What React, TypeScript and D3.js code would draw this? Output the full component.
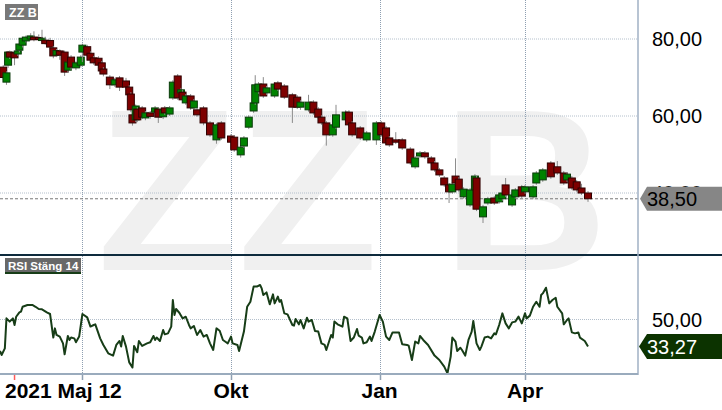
import React from 'react';
import * as d3 from 'd3';

// trading data. days = calendar days after 2021-05-12
const startDate = new Date(2021, 4, 12);

const candleDays = [1, 3, 4, 5, 8, 10, 11, 13, 15, 18, 20, 23, 25, 27, 30, 32, 34, 36, 39, 41, 43, 46, 49, 50, 53, 55, 57, 60, 62, 63,
  67, 70, 73, 77, 79, 80, 81, 83, 84, 87, 89, 92, 95, 97, 100, 101, 104, 106, 109, 111, 112, 114, 117, 119, 121, 125, 129, 133, 136, 142,
  144, 148, 150, 153, 156, 157, 159, 162, 164, 169, 171, 175, 180, 183, 185, 190, 193, 196, 198, 201, 205, 207, 213, 215, 217, 222, 226, 232, 235, 238,
  240, 244, 248, 253, 256, 259, 262, 266, 268, 271, 274, 277, 279, 281, 283, 286, 290, 293, 294, 298, 301, 305, 308, 310, 312, 316, 318, 322, 324, 329,
  331, 335, 340, 344, 348, 350, 353, 356, 359, 363];
const opens = [72.7, 68.8, 73.2, 76.6, 76.4, 76.1, 77.1, 78.4, 79.5, 80.0, 80.5, 80.4, 79.6, 79.7, 79.6, 77.7, 75.8, 76.9, 76.6, 71.9, 75.3, 72.5, 73.2, 76.6, 78.0, 76.3, 75.1, 75.0, 73.8, 72.2,
  70.1, 68.1, 69.9, 69.1, 67.5, 65.7, 60.3, 59.0, 61.8, 62.1, 59.5, 60.8, 61.0, 61.8, 59.8, 62.1, 60.5, 64.7, 70.4, 66.0, 66.2, 63.4, 65.2, 62.1, 61.6, 62.1, 58.2, 53.8, 58.2, 54.8,
  54.5, 49.9, 52.2, 57.1, 61.3, 63.4, 66.3, 68.3, 66.0, 65.2, 68.6, 67.8, 65.5, 64.9, 62.3, 61.6, 63.6, 61.8, 59.7, 58.2, 55.1, 57.1, 59.0, 61.0, 58.2, 56.9, 53.8, 53.8, 58.2, 56.9,
  54.3, 53.8, 53.8, 51.4, 46.8, 49.6, 50.4, 49.1, 47.8, 46.0, 43.9, 42.1, 40.3, 44.4, 43.6, 39.0, 36.9, 40.8, 43.9, 33.8, 37.4, 38.7, 37.7, 38.5, 42.1, 36.9, 39.0, 41.6, 40.3, 39.0,
  42.6, 43.4, 47.8, 46.8, 45.2, 43.4, 43.9, 42.9, 41.3, 40.0];
const highs = [73.2, 71.6, 76.9, 77.0, 76.8, 77.2, 79.0, 80.5, 80.9, 81.5, 82.0, 81.2, 82.4, 80.6, 80.3, 78.2, 77.4, 77.3, 77.0, 74.4, 75.8, 74.2, 75.8, 78.8, 78.5, 76.8, 75.6, 75.5, 74.3, 72.7,
  70.6, 69.9, 70.4, 69.9, 68.0, 66.2, 60.8, 63.0, 62.3, 62.6, 61.3, 61.3, 62.6, 62.3, 62.1, 62.6, 62.6, 69.3, 70.9, 67.3, 66.7, 65.7, 65.7, 64.4, 62.1, 62.6, 58.7, 58.2, 58.7, 55.3,
  55.0, 52.4, 54.8, 60.2, 63.9, 70.6, 68.8, 70.1, 67.8, 68.8, 69.1, 68.3, 66.0, 65.4, 64.1, 65.5, 64.1, 62.3, 60.2, 58.7, 58.2, 62.9, 61.5, 61.5, 58.7, 57.4, 56.1, 58.7, 58.7, 57.4,
  54.8, 55.8, 54.3, 51.9, 49.6, 50.9, 50.9, 49.6, 48.3, 46.5, 44.4, 42.6, 42.8, 49.0, 44.1, 41.5, 41.3, 44.9, 44.4, 36.9, 39.0, 39.2, 40.0, 40.5, 43.9, 40.0, 41.3, 42.1, 42.1, 42.1,
  45.7, 46.5, 48.3, 48.3, 45.7, 45.4, 44.4, 43.4, 42.4, 40.5];
const lows = [69.5, 68.1, 72.5, 74.8, 73.2, 75.6, 76.5, 77.8, 79.1, 79.6, 79.4, 79.5, 79.2, 78.5, 77.5, 75.0, 75.3, 74.6, 70.4, 71.2, 72.0, 71.9, 72.6, 74.0, 75.3, 74.0, 73.3, 72.5, 71.0, 70.3,
  67.0, 67.6, 66.5, 67.0, 65.0, 61.0, 57.5, 58.4, 58.4, 59.2, 58.9, 59.3, 60.5, 58.2, 59.2, 60.3, 60.0, 64.2, 64.2, 65.5, 63.7, 62.9, 61.6, 61.6, 59.8, 57.6, 54.6, 52.8, 53.8, 51.5,
  50.7, 49.2, 51.7, 56.6, 60.8, 62.9, 65.8, 64.7, 65.5, 64.7, 66.5, 64.4, 58.2, 61.8, 61.6, 61.1, 60.3, 59.2, 57.7, 52.3, 54.6, 56.6, 58.5, 57.2, 54.6, 53.8, 53.3, 52.5, 54.6, 52.5,
  52.0, 52.7, 51.2, 47.3, 46.3, 49.1, 48.9, 47.3, 45.5, 44.2, 41.6, 37.4, 39.8, 42.1, 40.3, 38.5, 36.4, 40.3, 35.3, 32.2, 36.9, 36.9, 37.2, 38.0, 39.0, 36.4, 38.5, 38.7, 39.8, 38.5,
  42.1, 42.9, 43.7, 44.7, 42.1, 42.9, 40.8, 40.3, 39.5, 37.7];
const closes = [70.0, 71.2, 76.6, 75.3, 75.1, 76.9, 78.7, 80.2, 80.5, 80.8, 79.8, 79.9, 80.2, 78.8, 77.9, 75.6, 77.0, 75.8, 71.4, 74.0, 72.7, 73.8, 75.3, 78.4, 75.8, 74.5, 73.8, 73.2, 71.7, 70.9,
  68.1, 69.4, 67.5, 67.5, 65.5, 61.6, 58.2, 62.6, 59.0, 59.7, 60.8, 59.9, 62.1, 59.7, 61.6, 60.8, 62.1, 68.8, 64.7, 66.8, 64.2, 65.2, 62.1, 63.9, 60.3, 58.2, 55.1, 57.7, 54.3, 53.2,
  51.2, 51.9, 54.3, 59.7, 63.4, 68.1, 68.3, 65.2, 67.3, 68.3, 67.0, 64.9, 62.3, 62.3, 63.6, 63.6, 60.8, 59.7, 58.2, 55.1, 57.7, 60.3, 61.0, 57.7, 55.1, 54.3, 55.6, 58.2, 55.1, 53.0,
  52.5, 53.2, 51.7, 47.8, 49.1, 50.4, 49.4, 47.8, 46.0, 44.7, 42.1, 40.3, 42.3, 42.6, 40.8, 41.0, 40.8, 44.4, 35.8, 36.4, 38.5, 37.4, 39.5, 40.0, 39.5, 39.5, 40.8, 39.2, 41.6, 41.6,
  45.2, 46.0, 44.2, 45.2, 42.6, 44.9, 41.3, 40.8, 40.0, 38.5];

const rsiDays = [-1, 0, 2, 3, 5, 7, 8, 9, 11, 12, 13, 16, 19, 21, 23, 25, 28, 30, 32, 33, 34, 36, 38, 39, 41, 42, 43, 45, 46, 48,
  50, 53, 55, 57, 58, 61, 63, 66, 69, 71, 73, 74, 75, 77, 79, 81, 82, 84, 85, 87, 90, 92, 94, 95, 96, 98, 100, 101, 103, 105,
  106, 107, 108, 110, 112, 114, 116, 117, 119, 121, 123, 125, 127, 129, 131, 133, 135, 137, 139, 140, 142, 143, 146, 147, 150, 152, 154, 156, 158, 160,
  161, 162, 164, 166, 168, 169, 171, 172, 173, 175, 177, 180, 181, 182, 184, 185, 187, 189, 190, 192, 194, 196, 198, 200, 201, 204, 205, 206, 208, 211,
  212, 214, 216, 218, 220, 221, 223, 224, 226, 228, 229, 231, 234, 236, 238, 240, 242, 246, 248, 251, 252, 254, 256, 258, 259, 261, 264, 268, 271, 274,
  276, 278, 279, 281, 282, 284, 285, 287, 289, 291, 292, 294, 296, 297, 299, 301, 303, 305, 306, 308, 310, 312, 314, 316, 318, 320, 322, 324, 325, 327,
  329, 331, 333, 334, 335, 337, 339, 341, 343, 344, 347, 348, 350, 351, 353, 355, 357, 358, 361, 363];
const rsiValues = [30.5, 28.0, 32.1, 50.7, 48.7, 50.7, 46.6, 51.7, 54.4, 54.9, 57.9, 59.0, 59.0, 57.9, 56.5, 56.3, 54.4, 53.4, 38.8, 44.5, 40.4, 39.4, 35.2, 28.4, 39.8, 37.3, 38.8, 38.3, 35.9, 39.4,
  53.4, 51.3, 45.6, 46.6, 47.0, 38.3, 34.2, 29.0, 27.6, 34.2, 36.7, 33.2, 39.8, 33.2, 23.4, 20.2, 33.6, 29.7, 36.7, 33.6, 35.2, 35.9, 39.8, 37.3, 38.8, 36.7, 43.5, 40.8, 41.4, 45.6,
  62.1, 52.8, 56.5, 54.2, 50.7, 51.7, 46.6, 44.5, 46.0, 40.4, 43.5, 39.4, 40.4, 35.2, 31.1, 44.5, 43.0, 37.3, 35.9, 35.2, 39.4, 35.2, 34.2, 30.5, 42.5, 57.9, 61.0, 70.4, 70.4, 71.4,
  69.3, 65.2, 66.8, 59.4, 65.6, 60.0, 64.2, 61.0, 62.1, 53.8, 53.2, 46.6, 46.2, 50.3, 47.0, 49.7, 44.5, 51.1, 48.7, 49.7, 42.9, 42.5, 35.2, 34.2, 31.1, 40.4, 38.8, 48.7, 47.0, 45.6,
  51.7, 50.7, 36.7, 38.8, 44.1, 40.0, 38.8, 35.2, 35.9, 39.4, 36.7, 42.5, 52.8, 48.7, 39.4, 37.3, 42.0, 41.9, 34.6, 34.2, 33.8, 24.9, 36.3, 35.2, 39.8, 37.3, 34.2, 27.6, 24.9, 20.8,
  16.7, 27.0, 38.8, 36.3, 30.5, 32.5, 31.1, 27.6, 37.3, 42.5, 49.1, 35.2, 31.1, 33.2, 38.8, 39.4, 38.3, 41.4, 40.8, 46.6, 53.8, 47.6, 44.5, 48.2, 48.7, 51.8, 47.6, 53.8, 50.7, 52.4,
  57.9, 61.0, 57.9, 65.2, 66.2, 69.7, 60.0, 62.1, 63.5, 57.9, 53.8, 47.0, 49.7, 50.7, 42.0, 41.4, 42.0, 38.8, 36.7, 33.27];

const priceTicks = [80, 60, 40];
const rsiTicks = [50];
const monthTicks = [new Date(2021, 6, 1), new Date(2021, 9, 1), new Date(2022, 0, 1), new Date(2022, 3, 1)];
const monthLabels = [
  { date: new Date(2021, 9, 1), text: 'Okt' },
  { date: new Date(2022, 0, 1), text: 'Jan' },
  { date: new Date(2022, 3, 1), text: 'Apr' },
];
const eventDays = [8];
const lastPrice = 38.5;
const lastRsi = 33.27;

const W = 722;
const H = 410;
const plotRight = 638;
const priceBottom = 255;
const rsiBottom = 374;
const font = '"Liberation Sans", Arial, sans-serif';
const fmt = (v: number) => v.toFixed(2).replace('.', ',');
const toDate = (d: number) => d3.timeDay.offset(startDate, d);

const App: React.FC = () => {
  const x = d3.scaleTime()
    .domain([new Date(2021, 9, 1), new Date(2022, 3, 1)])
    .range([231, 525]);
  const y = d3.scaleLinear().domain([60, 80]).range([116, 39]);
  const yr = d3.scaleLinear().domain([16.2, 50]).range([rsiBottom, 319.5]);

  const rsiLine = d3.line<number>()
    .x((_, i) => x(toDate(rsiDays[i])))
    .y((v) => yr(v));

  const bw = 7;

  return (
    <div style={{ position: 'fixed', left: 0, top: 0 }}>
      <svg width={W} height={H} style={{ display: 'block', background: '#fff', fontFamily: font }}>
        <defs>
          <clipPath id="pclip"><rect x={0} y={0} width={plotRight} height={priceBottom - 1} /></clipPath>
          <clipPath id="rclip"><rect x={0} y={priceBottom + 1} width={plotRight} height={rsiBottom - priceBottom - 1} /></clipPath>
        </defs>

        {/* watermark */}
        <text x={97} y={270} fontSize={230} fontWeight="bold" fill="#f0f0f0">ZZ B</text>

        {/* horizontal grid */}
        {priceTicks.map((t) => (
          <line key={'pg' + t} x1={0} x2={plotRight} y1={y(t)} y2={y(t)} stroke="#b4c0cc" strokeDasharray="1,1" />
        ))}
        {rsiTicks.map((t) => (
          <line key={'rg' + t} x1={0} x2={plotRight} y1={yr(t)} y2={yr(t)} stroke="#b4c0cc" strokeDasharray="1,1" />
        ))}

        {/* vertical grid + ticks */}
        {monthTicks.map((d, i) => (
          <g key={'vg' + i}>
            <line x1={Math.round(x(d)) + 0.5} x2={Math.round(x(d)) + 0.5} y1={0} y2={rsiBottom} stroke="#8e9fb1" strokeDasharray="1,1" />
            <line x1={Math.round(x(d)) + 0.5} x2={Math.round(x(d)) + 0.5} y1={rsiBottom} y2={rsiBottom + 6} stroke="#8e9fb1" strokeWidth={1.5} />
          </g>
        ))}

        {/* last price line */}
        <line x1={0} x2={plotRight} y1={y(lastPrice)} y2={y(lastPrice)} stroke="#777" strokeDasharray="3,2" />

        {/* candles */}
        <g clipPath="url(#pclip)">
          {candleDays.map((d, i) => {
            const cx = x(toDate(d));
            const up = closes[i] >= opens[i];
            const top = y(Math.max(opens[i], closes[i]));
            const bot = y(Math.min(opens[i], closes[i]));
            return (
              <g key={'c' + i}>
                <line x1={cx} x2={cx} y1={y(highs[i])} y2={y(lows[i])} stroke="#8a8a8a" />
                <rect x={cx - bw / 2} y={top} width={bw} height={Math.max(1.5, bot - top)}
                  fill={up ? '#008300' : '#7e0000'} stroke={up ? '#0b3a0b' : '#2f0000'} strokeWidth={1} />
              </g>
            );
          })}
        </g>

        {/* RSI */}
        <g clipPath="url(#rclip)">
          <path d={rsiLine(rsiValues) || ''} fill="none" stroke="#173d17" strokeWidth={2} strokeLinejoin="round" />
        </g>

        {/* frame */}
        <line x1={0} x2={W} y1={priceBottom} y2={priceBottom} stroke="#0e2b3d" strokeWidth={2} />
        <line x1={plotRight} x2={plotRight} y1={0} y2={rsiBottom + 1} stroke="#a0b1c4" strokeWidth={1.5} />
        <line x1={0} x2={plotRight} y1={rsiBottom} y2={rsiBottom} stroke="#9aabbd" strokeWidth={2} />
        {eventDays.map((d) => (
          <line key={'ev' + d} x1={x(toDate(d))} x2={x(toDate(d))} y1={rsiBottom + 1} y2={rsiBottom + 6} stroke="#ff5a5a" strokeWidth={1.5} />
        ))}

        {/* right axis labels */}
        {priceTicks.map((t) => (
          <text key={'pl' + t} x={652} y={y(t)} dy="0.36em" fontSize={20} fill="#000">{fmt(t)}</text>
        ))}
        {rsiTicks.map((t) => (
          <text key={'rl' + t} x={652} y={yr(t)} dy="0.36em" fontSize={20} fill="#000">{fmt(t)}</text>
        ))}

        {/* last value tags */}
        <path d={`M640,${y(lastPrice)} L647,${y(lastPrice) - 12} L${W},${y(lastPrice) - 12} L${W},${y(lastPrice) + 12} L647,${y(lastPrice) + 12} Z`} fill="#868686" />
        <text x={647} y={y(lastPrice)} dy="0.36em" fontSize={20} fill="#000">{fmt(lastPrice)}</text>
        <path d={`M639,${yr(lastRsi)} L647,${yr(lastRsi) - 12.5} L${W},${yr(lastRsi) - 12.5} L${W},${yr(lastRsi) + 12.5} L647,${yr(lastRsi) + 12.5} Z`} fill="#0c3300" />
        <text x={647} y={yr(lastRsi)} dy="0.36em" fontSize={20} fill="#fff">{fmt(lastRsi)}</text>

        {/* panel labels */}
        <rect x={5} y={4} width={33} height={16} fill="#787878" />
        <text x={9} y={17} fontSize={12.5} fontWeight="bold" fill="#fff">ZZ B</text>
        <rect x={5} y={258} width={76} height={16} fill="#686868" />
        <rect x={5} y={272} width={76} height={2} fill="#173d17" />
        <text x={8} y={270} fontSize={11.5} fontWeight="bold" fill="#fff">RSI Stäng 14</text>

        {/* time labels */}
        <text x={5} y={398} fontSize={21} fontWeight="bold" fill="#000">2021 Maj 12</text>
        {monthLabels.map((m) => (
          <text key={m.text} x={x(m.date)} y={398} textAnchor="middle" fontSize={21} fontWeight="bold" fill="#000">{m.text}</text>
        ))}
      </svg>
    </div>
  );
};

export default App;
